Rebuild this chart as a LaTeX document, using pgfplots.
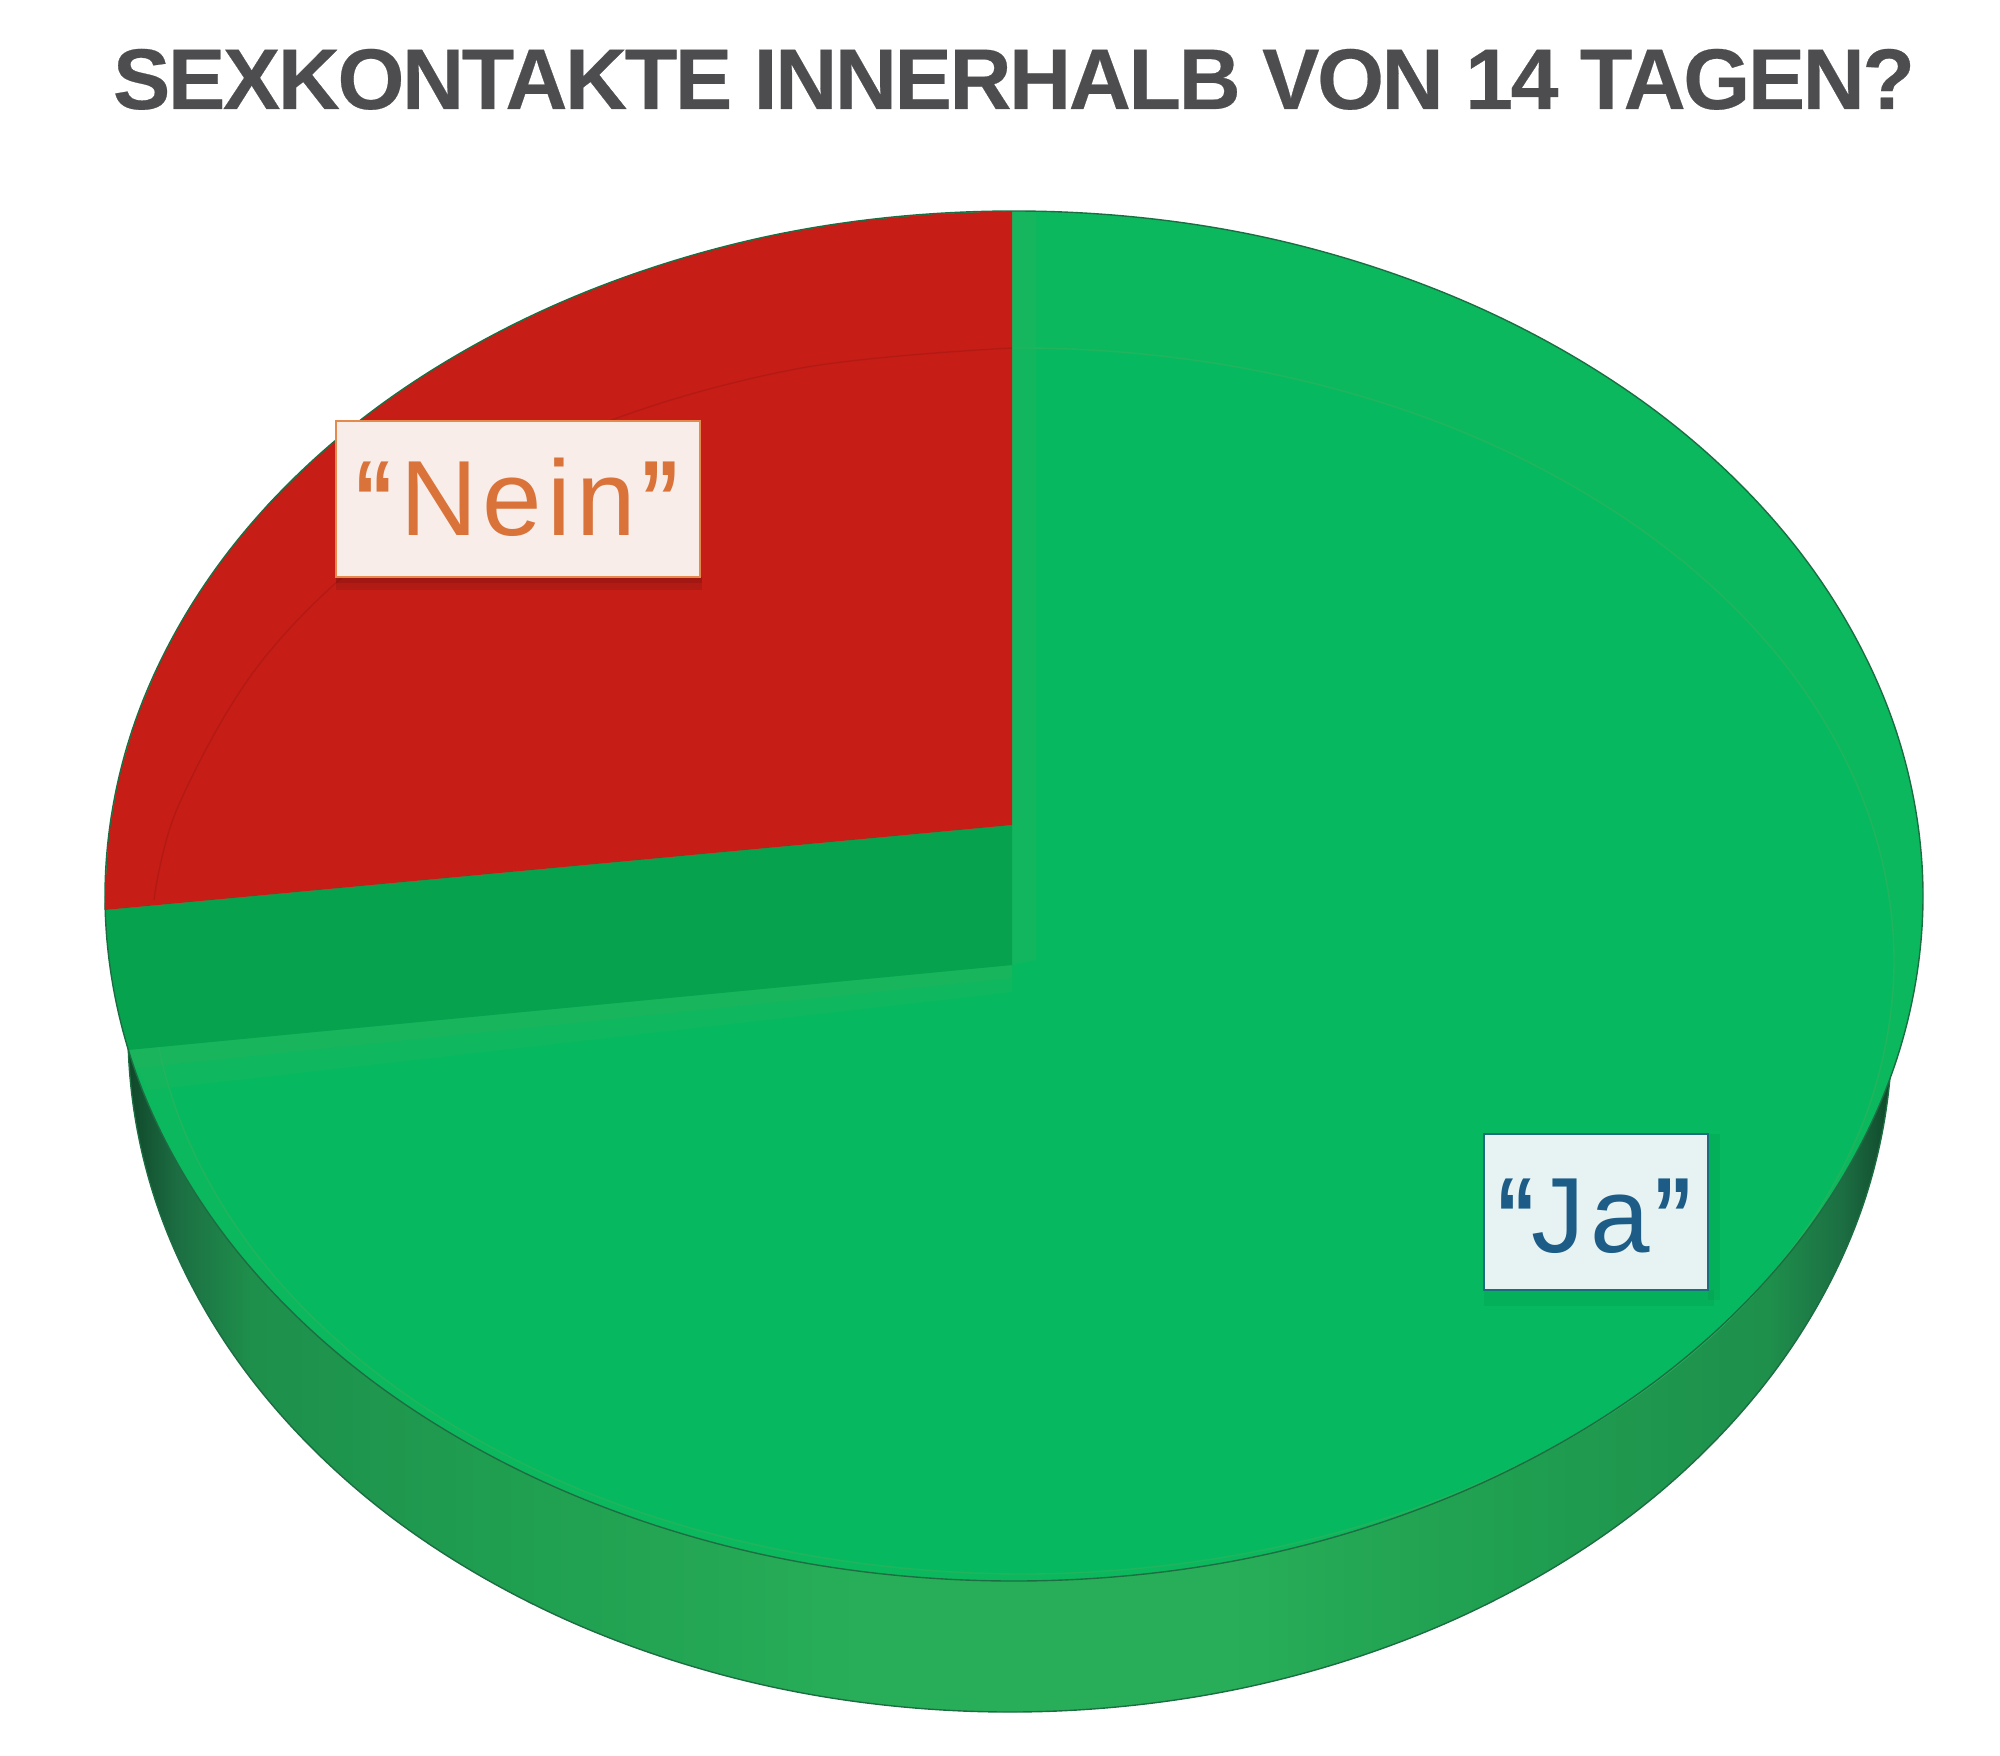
\documentclass[border=0pt]{standalone}
\usepackage{fontspec}
\usepackage{graphicx}
\usepackage{pgfplots}
\pgfplotsset{compat=1.18}
\setmainfont{Liberation Sans}
\newfontfamily\labelfont[LetterSpace=5]{Liberation Sans}
\newfontfamily\quotefont{Liberation Sans Bold}
\newfontfamily\titlefont[FakeBold=0.3,LetterSpace=-2.9]{Liberation Sans Bold}
\newcommand{\openq}{{\quotefont\scalebox{0.78}[1.0]{“}}}
\newcommand{\closeq}{{\quotefont\scalebox{0.78}[1.0]{”}}}
\definecolor{gmain}{HTML}{06B960}
\definecolor{grim}{HTML}{0CB85E}
\definecolor{glight}{HTML}{22B45C}
\definecolor{gwall}{HTML}{07A24D}
\definecolor{gline}{HTML}{1C6E42}
\definecolor{gdark}{HTML}{10472A}
\definecolor{wlight}{HTML}{28AE58}
\definecolor{wmid}{HTML}{1F9E50}
\definecolor{rmain}{HTML}{C61D17}
\definecolor{titlegrey}{HTML}{4D4D4F}
\definecolor{neinfill}{HTML}{F8EDE8}
\definecolor{neinline}{HTML}{E58A4E}
\definecolor{neintext}{HTML}{D9733A}
\definecolor{jafill}{HTML}{E7F3F3}
\definecolor{jaline}{HTML}{1C6B7E}
\definecolor{jatext}{HTML}{1C5C86}
\pgfdeclarehorizontalshading{wall}{100bp}{
  color(0bp)=(gdark);
  color(25bp)=(gdark);
  color(26.4bp)=(gline);
  color(28.5bp)=(wmid!70!gline);
  color(35.5bp)=(wmid);
  color(46bp)=(wlight);
  color(56bp)=(wlight);
  color(64.5bp)=(wmid);
  color(71.5bp)=(wmid!70!gline);
  color(73.6bp)=(gline);
  color(75bp)=(gdark);
  color(100bp)=(gdark)}
\begin{document}
\begin{tikzpicture}
\begin{axis}[
  width=720pt,height=631.8pt,scale only axis,
  xmin=0,xmax=2000,ymin=0,ymax=1755,y dir=reverse,
  axis line style={draw=none},xtick=\empty,ytick=\empty,
  clip=true,
]
% side wall
\addplot[smooth cycle,tension=0.6,shade,shading=wall,draw=gline,line width=0.5pt] coordinates {
  (1892,1032) (1862,1208) (1774,1372) (1634,1513) (1451,1621) (1238,1689)
  (1010,1712) (782,1689) (569,1621) (386,1513) (246,1372) (158,1208)
  (128,1032) (158,856) (246,692) (386,551) (569,443) (782,375)
  (1010,352) (1238,375) (1451,443) (1634,551) (1774,692) (1862,856)
};
% top face, rim
\addplot[smooth cycle,tension=0.6,fill=grim,draw=none] coordinates {
  (1923,896) (1892,1073) (1801,1238.5) (1657,1380) (1468.5,1489) (1249,1558)
  (1014,1581) (779,1558) (559.5,1489) (371,1380) (227,1238.5) (136,1073)
  (105,896) (136,719) (227,553.5) (371,412) (559.5,303) (779,234)
  (1014,211) (1249,234) (1468.5,303) (1657,412) (1801,553.5) (1892,719)
};
% top face, inner part
\addplot[smooth cycle,tension=0.6,fill=gmain,draw=glight,line width=0.5pt] coordinates {
  (1894,961) (1864,1120) (1777,1267.5) (1639,1394) (1458,1492) (1248,1553)
  (1022,1574) (796,1553) (586,1492) (405,1394) (267,1267.5) (180,1120)
  (150,961) (180,802) (267,654.5) (405,528) (586,430) (796,369)
  (1022,348) (1248,369) (1458,430) (1639,528) (1777,654.5) (1864,802)
};
% light strip beside the cut
\addplot[fill=glight,draw=none,opacity=0.45] coordinates {
  (1012,211) (1036,212) (1036,960) (1012,965)
} -- cycle;
% light band under the inner wall
\addplot[fill=glight,draw=none,opacity=0.5] coordinates {
  (128,1050) (1012,965) (1012,978) (135,1068)
} -- cycle;
\addplot[fill=glight,draw=none,opacity=0.35] coordinates {
  (128,1050) (1012,965) (1012,992) (148,1090)
} -- cycle;
% inner wall of the cut
\addplot[fill=gwall,draw=none] coordinates {
  (1012,825) (105,910) (109,960) (118,1010) (128,1050) (1012,965)
} -- cycle;
% Nein slice
\addplot[fill=rmain,draw=none] coordinates {
  (1012,211) (935,214) (856,221) (779,234) (703,252) (630,275) (559.5,303)
  (493,335) (430,371) (371,412) (318,456) (269,503) (227,553.5) (190,606.5)
  (160,662) (136,719) (119,777) (108.5,836) (105,896) (104.5,910) (1012,825)
} -- cycle;
\addplot[smooth,tension=0.6,draw=black!30!rmain,opacity=0.3,line width=0.5pt] coordinates {
  (154,900) (180,802) (267,654.5) (405,528) (586,430) (796,369) (1012,348)
};
% outline of the top face
\addplot[smooth cycle,tension=0.6,draw=gline,line width=0.5pt] coordinates {
  (1923,896) (1892,1073) (1801,1238.5) (1657,1380) (1468.5,1489) (1249,1558)
  (1014,1581) (779,1558) (559.5,1489) (371,1380) (227,1238.5) (136,1073)
  (105,896) (136,719) (227,553.5) (371,412) (559.5,303) (779,234)
  (1014,211) (1249,234) (1468.5,303) (1657,412) (1801,553.5) (1892,719)
};
% label boxes
\fill[black!50!rmain,opacity=0.2] (axis cs:336,577) rectangle (axis cs:702,590);
\fill[black!50!rmain,opacity=0.2] (axis cs:336,577) rectangle (axis cs:702,583);
\draw[fill=neinfill,draw=neinline,line width=0.6pt] (axis cs:336,421) rectangle (axis cs:700,577);
\node[anchor=base,text=neintext,font=\labelfont\fontsize{38.5}{46}\selectfont,inner sep=0pt] at (axis cs:517,535)
  {\openq\kern2pt Nein\kern1pt\closeq};
\fill[black!60!gmain,opacity=0.08] (axis cs:1484,1290) rectangle (axis cs:1714,1306);
\fill[black!60!gmain,opacity=0.08] (axis cs:1708,1134) rectangle (axis cs:1720,1300);
\draw[fill=jafill,draw=jaline,line width=0.8pt] (axis cs:1484,1134) rectangle (axis cs:1708,1290);
\node[anchor=base,text=jatext,font=\labelfont\fontsize{38.5}{46}\selectfont,inner sep=0pt] at (axis cs:1595,1252)
  {\openq\kern-2pt Ja\kern1pt\closeq};
% title
\node[anchor=base,text=titlegrey,font=\titlefont\fontsize{31}{36}\selectfont,inner sep=0pt] at (axis cs:1014,109) {SEXKONTAKTE INNERHALB VON 14 TAGEN?};
\end{axis}
\end{tikzpicture}
\end{document}
